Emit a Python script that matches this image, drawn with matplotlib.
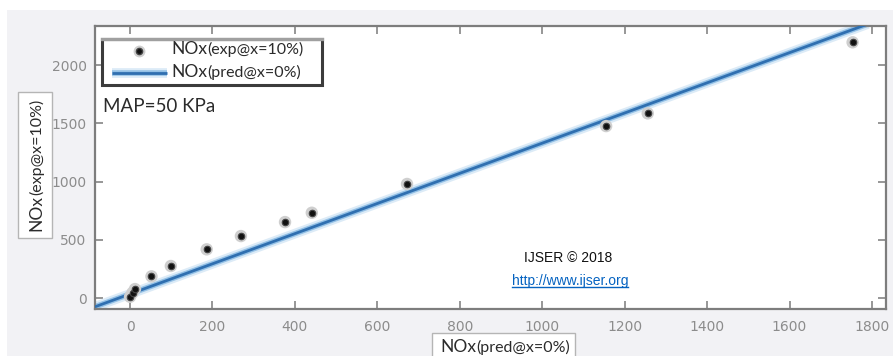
import matplotlib
matplotlib.use("Agg")
import matplotlib.pyplot as plt
from matplotlib.patches import Rectangle
from matplotlib.lines import Line2D
from matplotlib.text import Annotation

# Measured NOx at x = 10 % against predicted NOx at x = 0 %
nox_pred = [0, 6, 12, 52, 99, 186, 269, 376, 441, 672, 1155, 1256, 1753]
nox_exp = [11, 45, 77, 186, 275, 418, 532, 652, 732, 979, 1476, 1585, 2195]

# End points of the prediction line
line_pred = [-85, 1790]
line_exp = [-75, 2352]

x_ticks = [0, 200, 400, 600, 800, 1000, 1200, 1400, 1600, 1800]
y_ticks = [0, 500, 1000, 1500, 2000]

W, H = 893, 356
BG = "#f2f2f5"
TXT_FONT = ["Lato", "DejaVu Sans"]


def fx(px):
    return px / W


def fy(py):
    return 1 - py / H


fig = plt.figure(figsize=(W / 100, H / 100), dpi=100, facecolor=BG)
# white margins at the top and left edge
fig.patches.append(Rectangle((0, fy(10)), 1, 10 / H, transform=fig.transFigure,
                             facecolor="white", edgecolor="none", zorder=0))
fig.patches.append(Rectangle((0, 0), fx(7), 1, transform=fig.transFigure,
                             facecolor="white", edgecolor="none", zorder=0))

ax = fig.add_axes([fx(95), fy(309), (886 - 95) / W, (309 - 26) / H])
ax.set_facecolor("white")
ax.set_xlim(-85, 1834)
ax.set_ylim(-94, 2335)

ax.set_xticks(x_ticks)
ax.set_yticks(y_ticks)
ax.set_xticklabels([str(v) for v in x_ticks])
ax.set_yticklabels([str(v) for v in y_ticks])
ax.tick_params(direction="in", length=6, width=1.3, color="#8f8f8f",
               top=True, right=True, labelsize=10, labelcolor="#8c8c8c")
ax.tick_params(axis="x", pad=8)
ax.tick_params(axis="y", pad=6)
for s in ax.spines.values():
    s.set_color("#7d7d7d")
    s.set_linewidth(1.6)

# prediction line with a soft glow
ax.plot(line_pred, line_exp, color="#dcebf7", lw=7, solid_capstyle="butt", zorder=2)
ax.plot(line_pred, line_exp, color="#94c1e6", lw=4, solid_capstyle="butt", zorder=2)
ax.plot(line_pred, line_exp, color="#2f6fb0", lw=2.0, solid_capstyle="butt", zorder=3)

# measured points
ax.scatter(nox_pred, nox_exp, s=80, color="#cfcfcf", edgecolors="none", zorder=4)
ax.scatter(nox_pred, nox_exp, s=22, color="#111111", edgecolors="#444444",
           linewidths=0.8, zorder=5)


def sub_label(x, y, main, sub, rotation=0, main_size=12.5, sub_size=11.5):
    common = dict(family=TXT_FONT, color="#2b2b2b", zorder=10)
    if rotation == 0:
        t1 = fig.text(x, y, main, fontsize=main_size, ha="left",
                      va="baseline", **common)
        t2 = Annotation(sub, xy=(1, 0), xycoords=t1, xytext=(0.3, 0),
                        textcoords="offset points", fontsize=sub_size,
                        ha="left", va="bottom", **common)
    else:
        t1 = fig.text(x, y, main, fontsize=main_size, rotation=90,
                      ha="right", va="bottom", **common)
        t2 = Annotation(sub, xy=(1, 1), xycoords=t1, xytext=(0, 0.3),
                        textcoords="offset points", fontsize=sub_size,
                        rotation=90, ha="right", va="bottom", **common)
    fig.add_artist(t2)


# legend frame
fig.patches.append(Rectangle((fx(102), fy(85)), (322 - 102) / W, (85 - 39) / H,
                             transform=fig.transFigure, facecolor="white",
                             edgecolor="#3c3c3c", lw=2.2, zorder=8))
fig.add_artist(Line2D([fx(102), fx(322)], [fy(39), fy(39)], color="#a0a0a0",
                      lw=2.4, zorder=9))
# legend entries
fig.add_artist(Line2D([fx(139)], [fy(51)], marker="o", ms=8.5, color="#cfcfcf",
                      mec="none", zorder=9))
fig.add_artist(Line2D([fx(139)], [fy(51)], marker="o", ms=4.5, color="#111111",
                      mec="#444444", zorder=9))
for lw, c in [(7, "#dcebf7"), (4, "#94c1e6"), (2.0, "#2f6fb0")]:
    fig.add_artist(Line2D([fx(112), fx(167)], [fy(72.5), fy(72.5)], color=c,
                          lw=lw, solid_capstyle="butt", zorder=9))
sub_label(fx(171), fy(54), "NOx", "(exp@x=10%)")
sub_label(fx(171), fy(77), "NOx", "(pred@x=0%)")

# operating condition
fig.text(fx(103), fy(112), "MAP=50 KPa", fontsize=13.5, family=TXT_FONT,
         color="#2b2b2b", va="baseline", ha="left", zorder=10)

# y-axis title in a framed box
fig.patches.append(Rectangle((fx(18), fy(238)), (52 - 18) / W, (238 - 92) / H,
                             transform=fig.transFigure, facecolor="white",
                             edgecolor="#b5b5b5", lw=1.0, zorder=7))
sub_label(fx(44), fy(231), "NOx", "(exp@x=10%)", rotation=90)

# x-axis title in a framed box (runs into the lower edge)
fig.patches.append(Rectangle((fx(432), -0.05), (575 - 432) / W, (356 - 333) / H + 0.05,
                             transform=fig.transFigure, facecolor="white",
                             edgecolor="#b5b5b5", lw=1.0, zorder=7))
sub_label(fx(440), fy(352), "NOx", "(pred@x=0%)")

# publisher note
fig.text(fx(568), fy(258), "IJSER \u00a9 2018", fontsize=10,
         family=["Liberation Sans", "DejaVu Sans"], color="#111111",
         ha="center", va="center", zorder=10)
url = fig.text(fx(570), fy(281), "http://www.ijser.org", fontsize=10,
               family=["Liberation Sans", "DejaVu Sans"], color="#0563c1",
               ha="center", va="center", zorder=10)
fig.canvas.draw()
bb = url.get_window_extent().transformed(fig.transFigure.inverted())
fig.add_artist(Line2D([bb.x0, bb.x1], [bb.y0 + 0.004, bb.y0 + 0.004],
                      color="#0563c1", lw=1.0, zorder=10))

fig.savefig("out.png", dpi=100, facecolor=BG)
